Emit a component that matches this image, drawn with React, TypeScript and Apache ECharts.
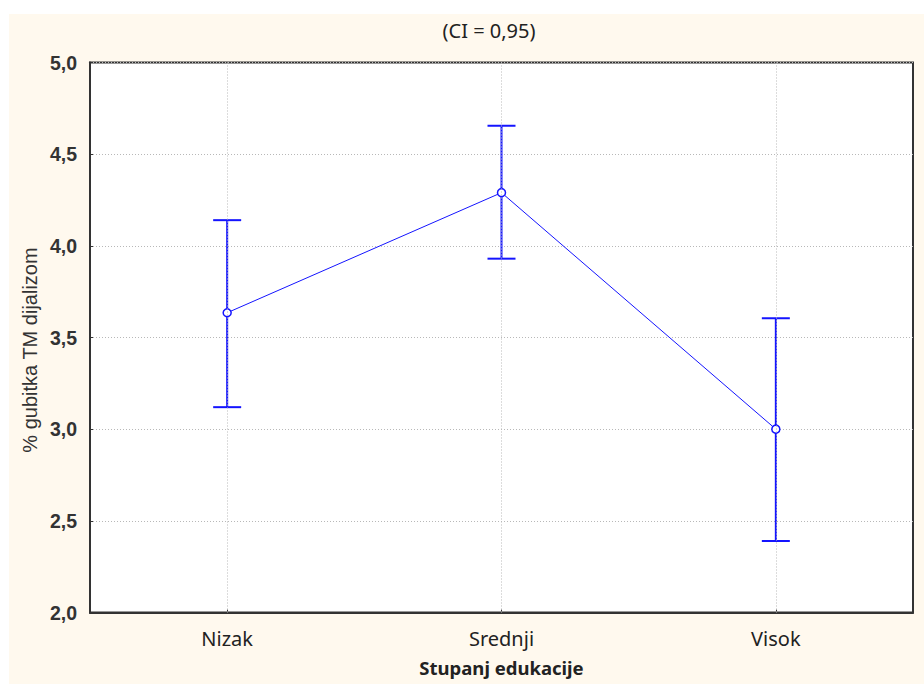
import React, { useEffect, useRef } from "react";
import * as echarts from "echarts";

const categories = ["Nizak", "Srednji", "Visok"];
const means = [3.635, 4.29, 3.0];
const lowerCI = [3.12, 3.93, 2.39];
const upperCI = [4.14, 4.655, 3.605];
const yTicks = [2.0, 2.5, 3.0, 3.5, 4.0, 4.5, 5.0];

const BLUE = "#1414ff";
const GRID_LINE = { color: "#b8b8b8", type: [1, 2] as number[], width: 1 };

export default function App() {
  const ref = useRef<HTMLDivElement>(null);
  useEffect(() => {
    if (!ref.current) return;
    const chart = echarts.init(ref.current, null, { renderer: "svg" });
    const errData = categories.map((_, i) => [i, lowerCI[i], upperCI[i]]);
    chart.setOption({
      animation: false,
      backgroundColor: "transparent",
      graphic: [
        {
          type: "rect",
          z: -10,
          shape: { x: 9, y: 14, width: 915, height: 670 },
          style: { fill: "#fff9ee" },
          silent: true,
        },
        {
          type: "text",
          x: 489,
          y: 30,
          style: {
            text: "(CI = 0,95)",
            fill: "#222",
            font: "20px 'Noto Sans'",
            align: "center",
            verticalAlign: "middle",
          },
        },
        {
          type: "text",
          x: 30,
          y: 350,
          rotation: Math.PI / 2,
          style: {
            text: "% gubitka TM dijalizom",
            fill: "#333",
            font: "20px 'Liberation Sans'",
            align: "center",
            verticalAlign: "middle",
          },
        },
      ],
      grid: {
        left: 90,
        top: 62.5,
        right: 11,
        bottom: 71.5,
        show: true,
        backgroundColor: "#ffffff",
        borderColor: "#333",
        borderWidth: 2,
      },
      xAxis: {
        type: "category",
        data: categories,
        boundaryGap: true,
        name: "Stupanj edukacije",
        nameLocation: "middle",
        nameGap: 45,
        nameTextStyle: {
          fontFamily: "Noto Sans",
          fontSize: 18.5,
          fontWeight: "bold",
          color: "#222",
        },
        axisLine: { show: true, lineStyle: { color: "#333", width: 2 } },
        axisTick: { show: true, inside: true, alignWithLabel: true, length: 3, lineStyle: { color: "#333" } },
        axisLabel: {
          margin: 16,
          fontFamily: "Noto Sans",
          fontSize: 20,
          color: "#222",
          interval: 0,
        },
        splitLine: { show: false },
      },
      yAxis: {
        type: "value",
        min: 2,
        max: 5,
        interval: 0.5,
        axisLine: { show: true, lineStyle: { color: "#333", width: 2 } },
        axisTick: { show: true, inside: true, length: 3, lineStyle: { color: "#333" } },
        axisLabel: {
          margin: 13,
          fontFamily: "Liberation Sans",
          fontSize: 19.5,
          fontWeight: "bold",
          color: "#333",
          formatter: (v: number) =>
            yTicks.includes(v) ? v.toFixed(1).replace(".", ",") : "",
        },
        splitLine: { show: true, lineStyle: GRID_LINE },
      },
      series: [
        {
          type: "line",
          z: 1,
          data: [],
          silent: true,
          markLine: {
            silent: true,
            symbol: "none",
            label: { show: false },
            lineStyle: GRID_LINE,
            data: categories.map((c) => ({ xAxis: c })),
          },
        },
        {
          type: "custom",
          z: 3,
          data: errData,
          renderItem: (params: any, api: any) => {
            const x = api.value(0);
            const lo = api.coord([x, api.value(1)]);
            const hi = api.coord([x, api.value(2)]);
            const hw = 14;
            const style = { stroke: BLUE, lineWidth: 2, fill: "none" };
            return {
              type: "group",
              children: [
                { type: "line", shape: { x1: lo[0], y1: lo[1], x2: hi[0], y2: hi[1] }, style },
                { type: "line", shape: { x1: lo[0] - hw, y1: lo[1], x2: lo[0] + hw, y2: lo[1] }, style },
                { type: "line", shape: { x1: hi[0] - hw, y1: hi[1], x2: hi[0] + hw, y2: hi[1] }, style },
              ],
            };
          },
        },
        {
          type: "line",
          z: 4,
          data: means,
          symbol: "circle",
          symbolSize: 8,
          showSymbol: true,
          itemStyle: { color: "#ffffff", borderColor: BLUE, borderWidth: 1.5 },
          lineStyle: { color: BLUE, width: 1 },
        },
      ],
    });
    return () => chart.dispose();
  }, []);
  return (
    <div
      ref={ref}
      style={{ position: "absolute", left: 0, top: 0, width: 924, height: 684 }}
    />
  );
}
